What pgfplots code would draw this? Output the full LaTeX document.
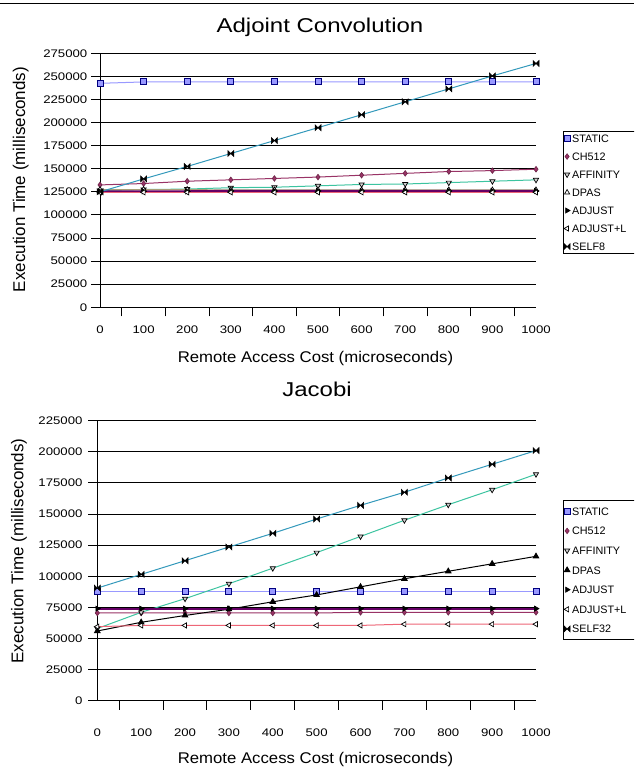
\documentclass[border=0pt]{standalone}
\usepackage{fontspec}
\setmainfont{Liberation Sans}
\newfontfamily\widesans[FakeStretch=1.2]{Liberation Sans}
\newfontfamily\labelsans[FakeStretch=1.08]{Liberation Sans}
\usepackage{pgfplots}
\pgfplotsset{compat=1.18}

\definecolor{cStatic}{HTML}{9999FF}
\definecolor{cStaticEdge}{HTML}{000080}
\definecolor{cCh}{HTML}{993366}
\definecolor{cAff}{HTML}{3CC4A0}
\definecolor{cDpasTop}{HTML}{A89F78}
\definecolor{cAdj}{HTML}{660066}
\definecolor{cAdjL}{HTML}{EE6677}
\definecolor{cSelf}{HTML}{3399BB}

% hourglass-like marker: two filled triangles meeting at the centre
\pgfdeclareplotmark{bowtie}{%
  \pgfpathmoveto{\pgfqpoint{-\pgfplotmarksize}{\pgfplotmarksize}}%
  \pgfpathlineto{\pgfqpoint{0pt}{0pt}}%
  \pgfpathlineto{\pgfqpoint{-\pgfplotmarksize}{-\pgfplotmarksize}}%
  \pgfpathclose
  \pgfpathmoveto{\pgfqpoint{\pgfplotmarksize}{\pgfplotmarksize}}%
  \pgfpathlineto{\pgfqpoint{0pt}{0pt}}%
  \pgfpathlineto{\pgfqpoint{\pgfplotmarksize}{-\pgfplotmarksize}}%
  \pgfpathclose
  \pgfusepathqfillstroke}

\pgfplotsset{
  excel/.style={
    scale only axis,
    xmin=0, xmax=1000, ymin=0,
    axis x line*=bottom, axis y line*=left,
    axis line style={black, line width=1pt},
    ymajorgrids, major grid style={black, line width=1pt},
    scaled y ticks=false,
    xtick={0,100,...,1000},
    xticklabels={0,100,200,300,400,500,600,700,800,900,1000},
    minor xtick={50,150,...,950},
    tick align=outside,
    major tick length=9pt, minor tick length=9pt,
    every major x tick/.style={draw=none},
    every minor x tick/.append style={black, line width=1pt},
    every major y tick/.append style={black, line width=1pt},
    tick label style={font=\widesans\fontsize{11}{11}\selectfont},
    /pgf/number format/assume math mode=true,
    yticklabel style={anchor=east, inner sep=0pt},
    clip=false,
    legend cell align=left,
    legend image code/.code={\path[##1] plot coordinates {(0pt,0pt)};},
    legend style={font=\fontsize{10.8}{10.8}\selectfont, draw=black, line width=0.8pt,
      anchor=north west, inner xsep=1pt,
      nodes={inner xsep=2pt, inner ysep=0pt, text height=7.8pt, text depth=0pt}},
  },
  sStatic/.style={cStatic, line width=1pt, mark=square*, mark size=3pt,
    mark options={fill=cStatic, draw=cStaticEdge, line width=0.9pt}},
  sCh/.style={cCh, line width=1pt, mark=diamond*, mark size=2.8pt,
    mark options={fill=cCh, draw=cCh!70!black, line width=0.6pt}},
  sAff/.style={cAff, line width=1pt, mark=triangle*, mark size=3pt,
    mark options={rotate=180, fill=gray!35, draw=black, line width=0.7pt}},
  sAdj/.style={cAdj, line width=2.2pt, mark=triangle*, mark size=3pt,
    mark options={rotate=-90, fill=black, draw=black, line width=0.6pt}},
  sAdjL/.style={cAdjL, line width=1pt, mark=triangle*, mark size=3pt,
    mark options={rotate=90, fill=white, draw=black, line width=0.7pt}},
  sSelf/.style={cSelf, line width=1pt, mark=bowtie, mark size=3pt,
    mark options={fill=black, draw=black, line width=0.5pt}},
}

\begin{document}
\begin{tikzpicture}[x=1pt, y=1pt]
\useasboundingbox (0,-767) rectangle (634,0);
\clip (0,-767) rectangle (634,0);
\fill[white] (0,-767) rectangle (634,0);
\draw[black, line width=1.2pt] (0,-3.5) -- (634,-3.5);

% ---------------- Adjoint Convolution ----------------
\node[anchor=base, font=\widesans\fontsize{20}{20}\selectfont] at (320,-32.7) {Adjoint Convolution};
\node[anchor=base, font=\labelsans\fontsize{15.5}{15.5}\selectfont] at (315.5,-362.7) {Remote Access Cost (microseconds)};
\node[anchor=base, rotate=90, font=\fontsize{17}{17}\selectfont] at (25,-179.5) {Execution Time (milliseconds)};

\begin{axis}[excel, at={(100pt,-307.3pt)}, anchor=south west,
  width=436pt, height=254pt, ymax=275000,
  ytick={0,25000,...,275000},
  yticklabels={0,25000,50000,75000,100000,125000,150000,175000,200000,225000,250000,275000},
  xticklabel style={anchor=base, yshift=-17.3pt},
  yticklabel style={xshift=-3.5pt},
  legend style={at={(axis description cs:1.0612,0.694)}, row sep=10.2pt, inner ysep=3.2pt},
]
\addplot[sStatic] coordinates {(0,242500) (100,244000) (200,244000) (300,244000) (400,244000) (500,244000) (600,244000) (700,244000) (800,244000) (900,244000) (1000,244000)};
\addplot[sCh] coordinates {(0,132500) (100,134000) (200,136500) (300,138000) (400,139500) (500,141000) (600,143000) (700,145000) (800,147000) (900,148000) (1000,149500)};
\addplot[sAff] coordinates {(0,126500) (100,127500) (200,128000) (300,129500) (400,130000) (500,131500) (600,133000) (700,133500) (800,135000) (900,136500) (1000,138000)};
\addplot[cDpasTop, line width=1pt, mark=triangle*, mark size=3pt, mark options={fill=white, draw=black, line width=0.7pt}] coordinates {(0,127500) (100,127500) (200,127500) (300,127000) (400,127000) (500,127000) (600,127000) (700,127000) (800,127000) (900,127000) (1000,127000)};
\addplot[sAdj] coordinates {(0,125500) (100,125500) (200,125500) (300,126000) (400,126000) (500,126000) (600,126000) (700,126000) (800,126000) (900,126000) (1000,126000)};
\addplot[sAdjL] coordinates {(0,124500) (100,124500) (200,124500) (300,124500) (400,124500) (500,124500) (600,124500) (700,124500) (800,124500) (900,124500) (1000,124500)};
\addplot[sSelf] coordinates {(0,125000) (100,139000) (200,152500) (300,166500) (400,180500) (500,194500) (600,208500) (700,222500) (800,236500) (900,250500) (1000,264000)};
\legend{STATIC,CH512,AFFINITY,DPAS,ADJUST,ADJUST+L\hspace*{14pt},SELF8}
\end{axis}

% ---------------- Jacobi ----------------
\node[anchor=base, font=\widesans\fontsize{20}{20}\selectfont] at (317,-396) {Jacobi};
\node[anchor=base, font=\labelsans\fontsize{15.5}{15.5}\selectfont] at (315.5,-763.3) {Remote Access Cost (microseconds)};
\node[anchor=base, rotate=90, font=\fontsize{17}{17}\selectfont] at (23.3,-551) {Execution Time (milliseconds)};

\begin{axis}[excel, at={(97.3pt,-700.7pt)}, anchor=south west,
  width=438.7pt, height=280pt, ymax=225000,
  ytick={0,25000,...,225000},
  yticklabels={0,25000,50000,75000,100000,125000,150000,175000,200000,225000},
  xticklabel style={anchor=base, yshift=-26.3pt},
  yticklabel style={xshift=-5.6pt},
  legend style={at={(axis description cs:1.0609,0.7168)}, row sep=11.8pt, inner ysep=7pt},
]
\addplot[sStatic] coordinates {(0,87500) (100,87500) (200,87500) (300,87500) (400,87500) (500,87500) (600,87500) (700,87500) (800,87500) (900,87500) (1000,87500)};
\addplot[sCh] coordinates {(0,70500) (100,70500) (200,70500) (300,70500) (400,70500) (500,70500) (600,71000) (700,71000) (800,71000) (900,71000) (1000,71000)};
\addplot[sAff] coordinates {(0,58000) (100,71000) (200,82000) (300,94000) (400,106500) (500,119000) (600,132000) (700,145000) (800,157500) (900,169500) (1000,182000)};
\addplot[black, line width=1pt, mark=triangle*, mark size=3pt, mark options={fill=black, draw=black}] coordinates {(0,56000) (100,63000) (200,68500) (300,73500) (400,79500) (500,85000) (600,91500) (700,98000) (800,104000) (900,110000) (1000,116000)};
\addplot[sAdj] coordinates {(0,74000) (100,74000) (200,74000) (300,74000) (400,74000) (500,74000) (600,74000) (700,74000) (800,74000) (900,74000) (1000,74000)};
\addplot[sAdjL] coordinates {(0,59500) (100,60500) (200,60500) (300,60500) (400,60500) (500,60500) (600,60500) (700,61500) (800,61500) (900,61500) (1000,61500)};
\addplot[sSelf] coordinates {(0,90500) (100,101500) (200,112500) (300,123500) (400,134500) (500,146000) (600,157000) (700,167500) (800,179000) (900,190000) (1000,201000)};
\legend{STATIC,CH512,AFFINITY,DPAS,ADJUST,ADJUST+L\hspace*{14pt},SELF32}
\end{axis}
\end{tikzpicture}
\end{document}
